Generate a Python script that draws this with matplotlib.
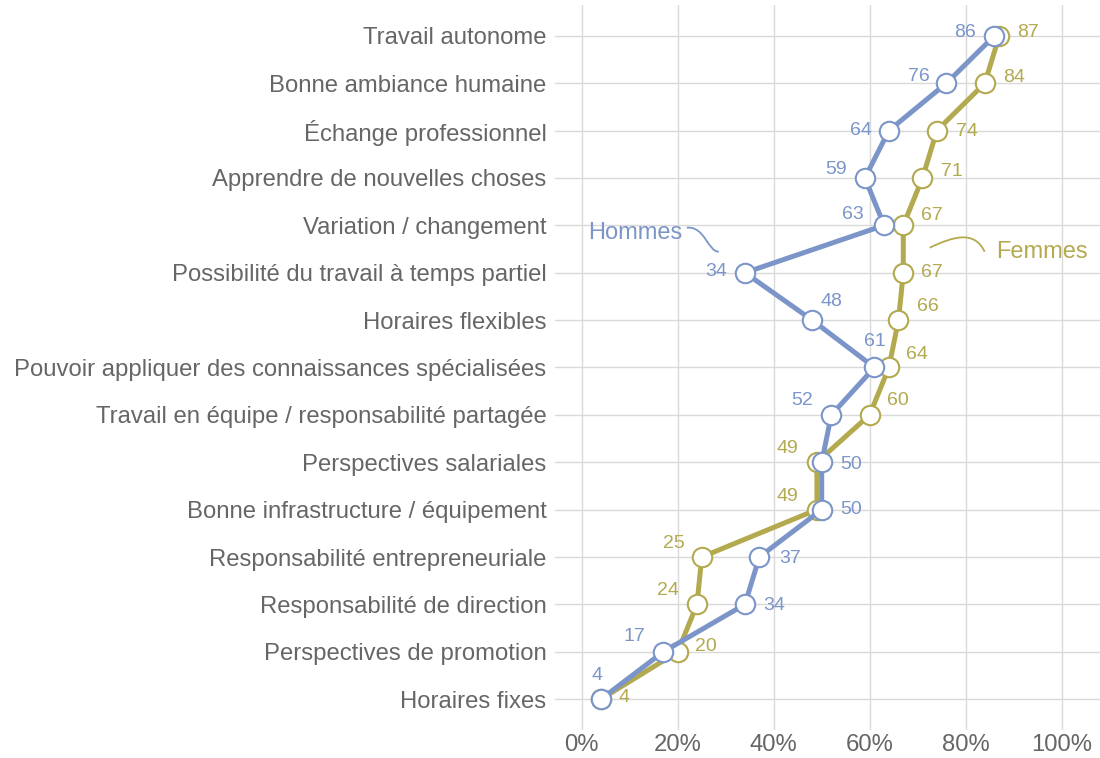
import matplotlib.pyplot as plt
from matplotlib.path import Path
from matplotlib.patches import PathPatch

plt.rcParams["font.family"] = ["Liberation Sans", "DejaVu Sans"]

categories = [
    "Travail autonome",
    "Bonne ambiance humaine",
    "Échange professionnel",
    "Apprendre de nouvelles choses",
    "Variation / changement",
    "Possibilité du travail à temps partiel",
    "Horaires flexibles",
    "Pouvoir appliquer des connaissances spécialisées",
    "Travail en équipe / responsabilité partagée",
    "Perspectives salariales",
    "Bonne infrastructure / équipement",
    "Responsabilité entrepreneuriale",
    "Responsabilité de direction",
    "Perspectives de promotion",
    "Horaires fixes",
]
hommes = [86, 76, 64, 59, 63, 34, 48, 61, 52, 50, 50, 37, 34, 17, 4]
femmes = [87, 84, 74, 71, 67, 67, 66, 64, 60, 49, 49, 25, 24, 20, 4]
xticks = [0, 20, 40, 60, 80, 100]

# label offsets in pixels (dx right, dy down)
off_h = [(-29, -3), (-28, -7), (-28, 0), (-29, -8), (-31, -11), (-29, -1),
         (19, -19), (0, -26), (-29, -14), (29, 2), (29, 0), (31, 1),
         (29, 1), (-29, -15), (-4, -24)]
off_f = [(29, -3), (29, -6), (30, 1), (29, -6), (29, -10), (29, 0),
         (29, -14), (28, -13), (28, -14), (-30, -14), (-30, -13), (-28, -14),
         (-29, -14), (28, -5), (23, -2)]

blue = "#7b95c9"
olive = "#b3a94f"
grey = "#666666"

fig = plt.figure(figsize=(11, 7.58), dpi=100)
ax = fig.add_axes([0.5045, 0.037, 0.4955, 0.9564])

y = list(range(len(categories)))
for vals, col, offs in [(femmes, olive, off_f), (hommes, blue, off_h)]:
    ax.plot(vals, y, color=col, lw=3.6, marker="o", ms=14,
            mfc="white", mec=col, mew=1.5, zorder=3, solid_joinstyle="round")
    for v, yy, (dx, dy) in zip(vals, y, offs):
        ax.annotate(str(v), (v, yy), xytext=(dx / 1.389, -dy / 1.389),
                    textcoords="offset points", ha="center", va="center",
                    fontsize=14, color=col, zorder=4)


def px(x, yp):
    return ((x - 582) / 4.8, (yp - 36) / 47.4)


def curve(pts, col):
    verts = [px(*p) for p in pts]
    path = Path(verts, [Path.MOVETO, Path.CURVE4, Path.CURVE4, Path.CURVE4])
    ax.add_patch(PathPatch(path, fc="none", ec=col, lw=1.3, zorder=2))


curve([(687, 228), (705, 226), (708, 252), (719, 252)], blue)
curve([(930, 248), (955, 236), (975, 231), (985, 252)], olive)
ax.text(*px(635, 233), "Hommes", color=blue, fontsize=17, ha="center", va="center")
ax.text(*px(996, 252), "Femmes", color=olive, fontsize=17, ha="left", va="center")

ax.set_xlim(-5.6, 108)
ax.set_ylim(len(categories) - 0.35, -0.65)
ax.set_yticks(y)
ax.set_yticklabels(categories)
ax.set_xticks(xticks)
ax.set_xticklabels([f"{t}%" for t in xticks])
ax.tick_params(length=0, labelsize=17.2, labelcolor=grey)
ax.tick_params(axis="y", pad=6)
ax.tick_params(axis="x", pad=3)
ax.grid(True, color="#d9d9d9", lw=1)
ax.set_axisbelow(True)
for s in ax.spines.values():
    s.set_visible(False)

fig.savefig("out.png", dpi=100)
